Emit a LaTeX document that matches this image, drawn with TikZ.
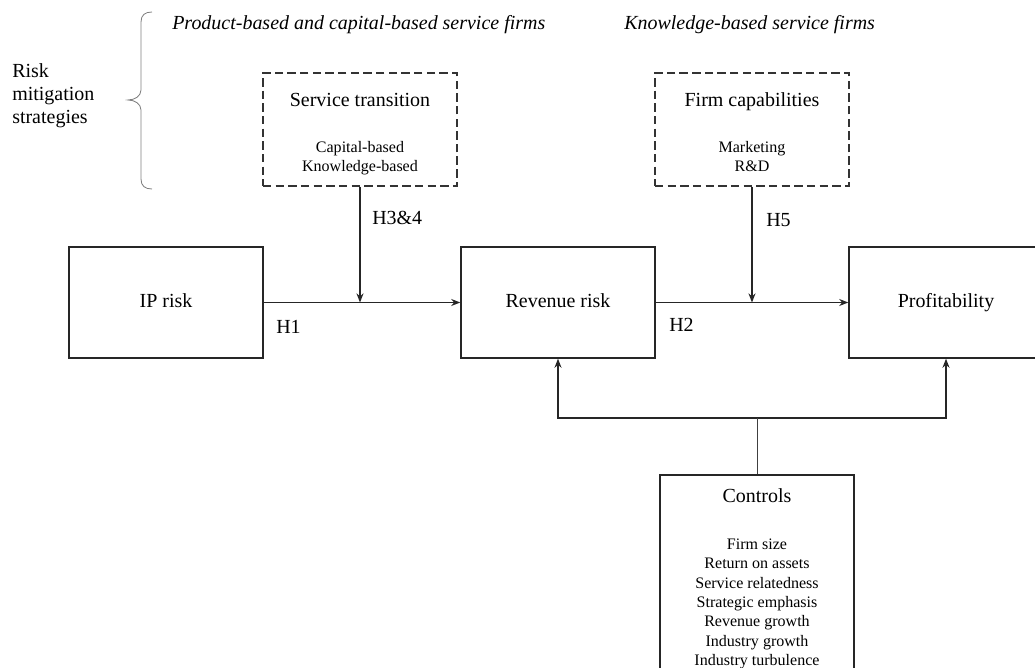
\documentclass[tikz,border=0pt]{standalone}
\usepackage{fontspec}
\setmainfont{Liberation Serif}
\usepackage{tikz}
\usetikzlibrary{arrows.meta, positioning, calc}

\newcommand{\mainsize}{\fontsize{14.2pt}{16.4pt}\selectfont}
\newcommand{\listsize}{\fontsize{11.4pt}{13.75pt}\selectfont}

\begin{document}
\begin{tikzpicture}[x=0.025cm, y=-0.025cm,
  >={Stealth[length=6.5pt, width=5pt]},
  box/.style={draw=black!85, line width=0.95pt, minimum width=4.85cm, minimum height=2.775cm, font=\mainsize, text height=0.7em, text depth=0pt},
  dbox/.style={draw=black!80, line width=0.95pt, dash pattern=on 6pt off 3pt, minimum width=4.85cm, minimum height=2.825cm, align=center, font=\listsize},
  conn/.style={line width=0.95pt, black!85},
  lbl/.style={anchor=west, inner sep=0pt, font=\mainsize}]
  \useasboundingbox (0,0) rectangle (1035,668);

  % brace and group headings
  \draw[gray, line width=0.6pt] (152,12) .. controls (145,12) and (141,15) .. (141,22) -- (141,90)
    .. controls (141,96) and (135,100) .. (128,100) .. controls (135,100) and (141,104) .. (141,110)
    -- (141,179) .. controls (141,186) and (145,189) .. (152,189);
  \node[lbl, align=left] (rms) at (12,96) {Risk\\mitigation\\strategies};
  \node[lbl, font=\mainsize\itshape] (pcs) at (172,25) {Product-based and capital-based service firms};
  \node[lbl, font=\mainsize\itshape] (kbs) at (624,25) {Knowledge-based service firms};

  % moderators
  \node[dbox] (trans) at (360,129.5) {{\mainsize\rule{0pt}{18pt}Service transition}\\[19pt]Capital-based\\Knowledge-based\strut};
  \node[dbox] (caps) at (752,129.5) {{\mainsize\rule{0pt}{18pt}Firm capabilities}\\[19pt]Marketing\\R\&D\strut};

  % main chain
  \node[box] (ip) at (166,302.5) {IP risk};
  \node[box] (rev) at (558,302.5) {Revenue risk};
  \node[box] (prof) at (946,302.5) {Profitability};

  \node[box, minimum height=4.875cm, align=center, font=\listsize, text height=, text depth=] (ctrl) at (757,575.5)
    {{\mainsize\rule{0pt}{16pt}Controls}\\[19.7pt]Firm size\\Return on assets\\Service relatedness\\Strategic emphasis\\Revenue growth\\Industry growth\\Industry turbulence\strut};

  \draw[conn, ->] (ip) -- (rev);
  \draw[conn, ->] (rev) -- (prof);
  \draw[conn, ->] (trans) -- (trans |- ip);
  \draw[conn, ->] (caps) -- (caps |- rev);

  \coordinate (bus) at (757,418);
  \draw[conn, <->] (rev.south) -- (rev.south |- bus) -- (prof.south |- bus) -- (prof.south);
  \draw[black!75, line width=0.5pt] (ctrl) -- (bus);

  % hypotheses
  \node[lbl] (h34) at (372,218) {H3\&4};
  \node[lbl] (h1) at (276,327) {H1};
  \node[lbl] (h5) at (766,220) {H5};
  \node[lbl] (h2) at (669,325) {H2};
\end{tikzpicture}
\end{document}
